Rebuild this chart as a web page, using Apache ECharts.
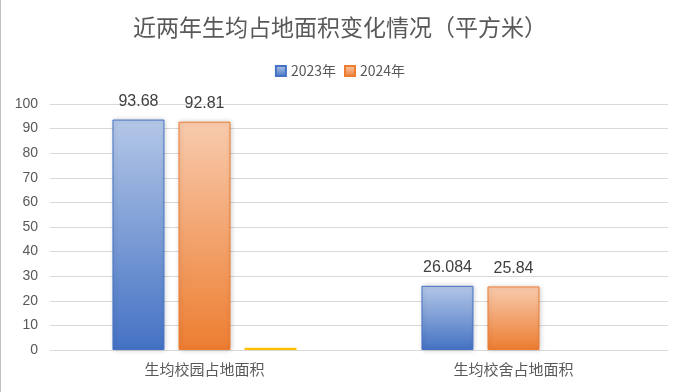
<!DOCTYPE html>
<html>
<head>
<meta charset="utf-8">
<script src="https://cdn.jsdelivr.net/npm/echarts@6/dist/echarts.min.js"></script>
<style>html,body{margin:0;padding:0;background:#fff}#c{width:680px;height:392px}</style>
</head>
<body>
<div id="c"></div>
<script>
var categories = ['生均校园占地面积', '生均校舍占地面积'];
var seriesNames = ['2023年', '2024年', '差值'];
var values2023 = [93.68, 26.084];
var values2024 = [92.81, 25.84];
var valuesDiff = [0.87, 0];
var yTicks = [0, 10, 20, 30, 40, 50, 60, 70, 80, 90, 100];

var font = '"Noto Sans CJK SC", "Liberation Sans", sans-serif';
function grad(top, bottom) {
  return new echarts.graphic.LinearGradient(0, 0, 0, 1, [
    {offset: 0, color: top}, {offset: 1, color: bottom}
  ]);
}
var chart = echarts.init(document.getElementById('c'));
chart.setOption({
  animation: false,
  title: {
    text: '近两年生均占地面积变化情况（平方米）',
    left: 'center', top: 11,
    textStyle: {fontFamily: font, fontSize: 23, fontWeight: 'normal', color: '#595959'}
  },
  legend: {
    data: [seriesNames[0], seriesNames[1]],
    top: 59, left: 'center',
    icon: 'rect', itemWidth: 10, itemHeight: 10, itemGap: 8,
    textStyle: {fontFamily: font, fontSize: 14, color: '#595959'}
  },
  graphic: [{type: 'line', shape: {x1: 0.5, y1: 0, x2: 0.5, y2: 392}, style: {stroke: '#bfbfbf', lineWidth: 1}}],
  grid: {left: 50, right: 12, top: 104, bottom: 42},
  xAxis: {
    type: 'category', data: categories,
    axisLine: {lineStyle: {color: '#d9d9d9'}},
    axisTick: {show: false},
    axisLabel: {fontFamily: font, fontSize: 15, color: '#595959', margin: 12}
  },
  yAxis: {
    type: 'value', min: yTicks[0], max: yTicks[yTicks.length - 1], interval: 10,
    axisLine: {show: false}, axisTick: {show: false},
    splitLine: {lineStyle: {color: '#d9d9d9'}},
    axisLabel: {fontFamily: '"Liberation Sans", sans-serif', fontSize: 14, color: '#595959', margin: 12}
  },
  series: [
    {
      name: seriesNames[0], type: 'bar', data: values2023, barWidth: 52, barGap: '27%',
      itemStyle: {color: grad('#b4c7e7', '#4472c4'), borderColor: '#4472c4', borderWidth: 1,
        shadowBlur: 5, shadowColor: 'rgba(0,0,0,0.18)', shadowOffsetX: 1, shadowOffsetY: 0},
      label: {show: true, position: 'top', distance: 10, fontFamily: '"Liberation Sans", sans-serif', fontSize: 16, color: '#404040'}
    },
    {
      name: seriesNames[1], type: 'bar', data: values2024, barWidth: 52, barGap: '27%',
      itemStyle: {color: grad('#f8cbad', '#ed7d31'), borderColor: '#ed7d31', borderWidth: 1,
        shadowBlur: 5, shadowColor: 'rgba(0,0,0,0.18)', shadowOffsetX: 1, shadowOffsetY: 0},
      label: {show: true, position: 'top', distance: 10, fontFamily: '"Liberation Sans", sans-serif', fontSize: 16, color: '#404040'}
    },
    {
      name: seriesNames[2], type: 'bar', data: valuesDiff, barWidth: 52, barGap: '27%',
      itemStyle: {color: '#ffc000'}
    }
  ]
});
</script>
</body>
</html>
